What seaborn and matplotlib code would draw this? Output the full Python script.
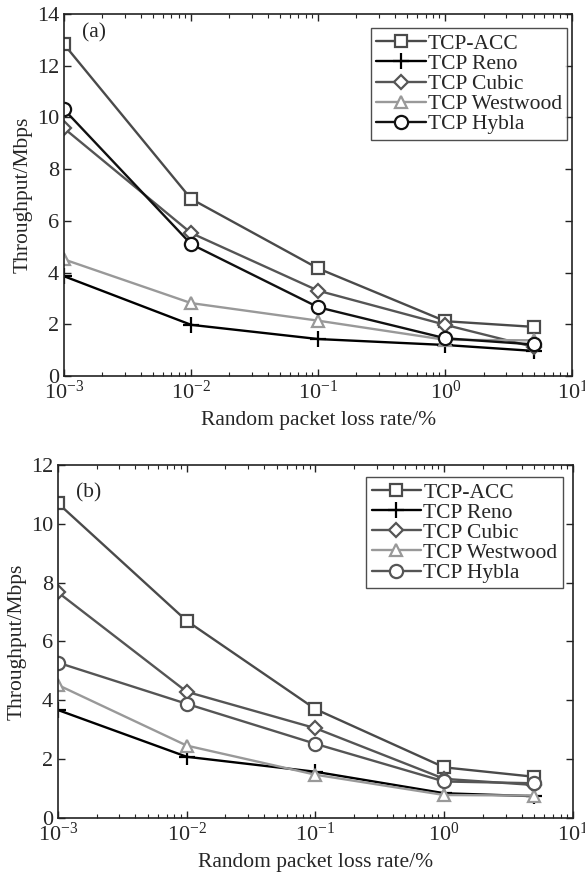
import matplotlib
matplotlib.use("Agg")
import matplotlib.pyplot as plt
import seaborn as sns
import pandas as pd
from matplotlib.ticker import LogLocator, NullFormatter

loss_rate = [0.001, 0.01, 0.1, 1, 5]
series = ["TCP-ACC", "TCP Reno", "TCP Cubic", "TCP Westwood", "TCP Hybla"]

a_acc = [12.83, 6.85, 4.16, 2.12, 1.90]
a_reno = [3.86, 1.98, 1.43, 1.20, 0.97]
a_cubic = [9.58, 5.53, 3.30, 1.98, 1.12]
a_westwood = [4.51, 2.82, 2.14, 1.40, 1.38]
a_hybla = [10.31, 5.10, 2.66, 1.46, 1.22]

b_acc = [10.70, 6.70, 3.70, 1.72, 1.40]
b_reno = [3.67, 2.08, 1.57, 0.84, 0.74]
b_cubic = [7.67, 4.29, 3.05, 1.33, 1.12]
b_westwood = [4.52, 2.46, 1.47, 0.78, 0.76]
b_hybla = [5.28, 3.88, 2.52, 1.24, 1.18]

sns.set_style("ticks")
plt.rcParams["font.family"] = ["Liberation Serif", "DejaVu Serif"]
plt.rcParams["mathtext.fontset"] = "stix"

fig = plt.figure(figsize=(5.85, 8.8), dpi=100)
ax_a = fig.add_axes([0.1094, 0.5727, 0.8690, 0.4114])
ax_b = fig.add_axes([0.0991, 0.0705, 0.8804, 0.4011])

markers = ["s", "+", "D", "^", "o"]
msizes = [8, 12, 7, 9, 9.5]
colors_a = ["#4a4a4a", "#000000", "#555555", "#999999", "#111111"]
colors_b = ["#4a4a4a", "#000000", "#555555", "#999999", "#555555"]


def draw(ax, vals, colors, ymax, label, lx, ly, leg_anchor):
    for name, v, m, ms, c in zip(series, vals, markers, msizes, colors):
        df = pd.DataFrame({"x": loss_rate, "y": v})
        sns.lineplot(data=df, x="x", y="y", ax=ax, color=c, marker=m,
                     markersize=ms, markerfacecolor="white" if m != "+" else c,
                     markeredgecolor=c, markeredgewidth=1.6, linewidth=1.7,
                     label=name)
    ax.set_xscale("log")
    ax.set_xlim(1e-3, 10)
    ax.set_ylim(0, ymax)
    ax.set_yticks(range(0, ymax + 1, 2))
    ax.xaxis.set_major_locator(LogLocator(base=10, numticks=10))
    ax.xaxis.set_minor_locator(LogLocator(base=10, subs=range(2, 10), numticks=20))
    ax.xaxis.set_minor_formatter(NullFormatter())
    ax.tick_params(which="both", direction="in", top=True, right=True,
                   labelsize=16, color="#222222")
    ax.tick_params(which="major", length=5, width=1)
    ax.tick_params(which="minor", length=3, width=0.8)
    for s in ax.spines.values():
        s.set_linewidth(1.2)
        s.set_color("#222222")
    ax.set_xlabel("Random packet loss rate/%", fontsize=15.5, labelpad=5)
    ax.set_ylabel("Throughput/Mbps", fontsize=15.5, labelpad=3)
    ax.text(lx, ly, label, transform=ax.transAxes, fontsize=15.5, va="center")
    leg = ax.legend(loc="upper right", bbox_to_anchor=leg_anchor, fontsize=15.5,
                    handlelength=2.3, handletextpad=0.1, labelspacing=0.0,
                    borderpad=0.25, frameon=True, fancybox=False, borderaxespad=0)
    leg.get_frame().set_edgecolor("#222222")
    leg.get_frame().set_linewidth(1.0)


draw(ax_a, [a_acc, a_reno, a_cubic, a_westwood, a_hybla], colors_a, 14,
     "(a)", 0.035, 0.947, (0.99, 0.96))
draw(ax_b, [b_acc, b_reno, b_cubic, b_westwood, b_hybla], colors_b, 12,
     "(b)", 0.035, 0.92, (0.98, 0.965))

fig.savefig("out.png", dpi=100)
